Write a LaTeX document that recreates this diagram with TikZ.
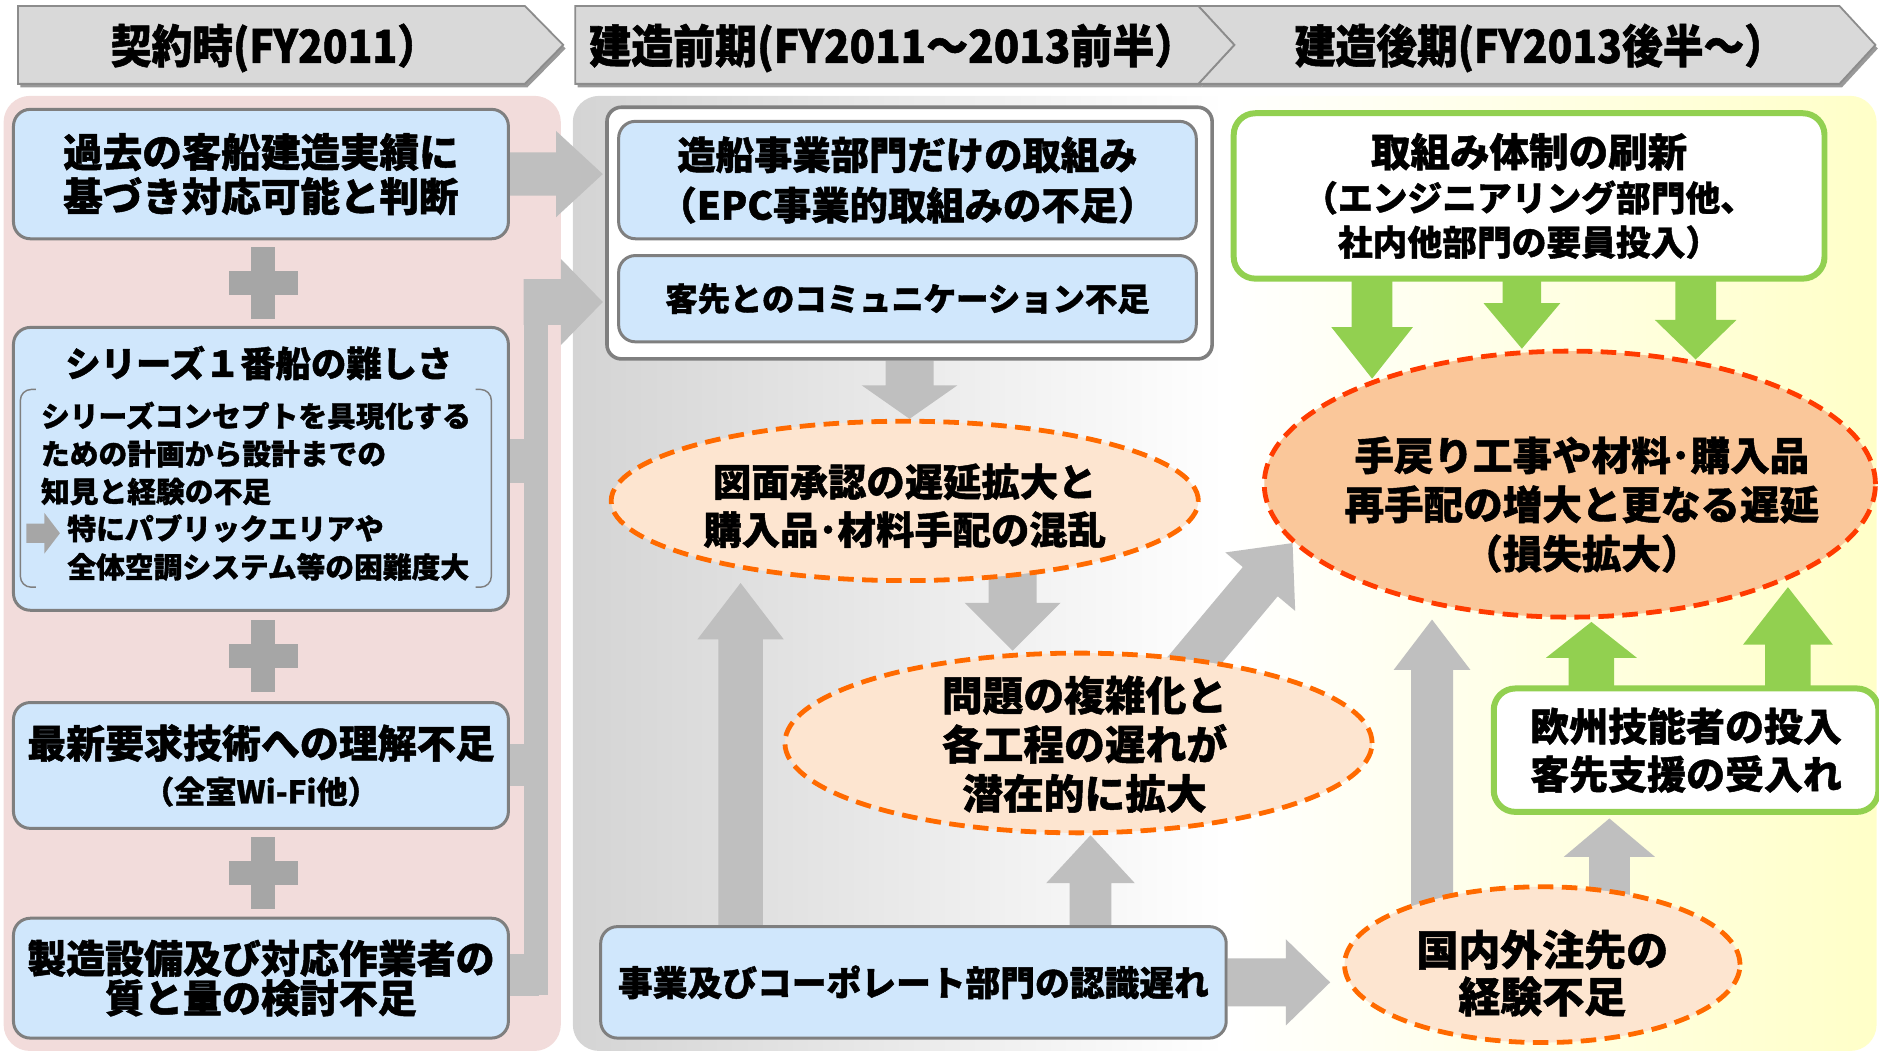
\documentclass[tikz,border=0pt]{standalone}
\usepackage{fontspec}
\setmainfont{Noto Sans CJK JP}[BoldFeatures={FakeBold=1.2}]
\usetikzlibrary{calc,shapes.geometric}
\definecolor{pinkbg}{HTML}{F2DCDB}
\definecolor{hdr}{HTML}{D9D9D9}
\definecolor{hdrline}{HTML}{8C8C8C}
\definecolor{boxblue}{HTML}{D0E7FC}
\definecolor{boxline}{HTML}{7F7F7F}
\definecolor{arrgray}{HTML}{BFBFBF}
\definecolor{plusgray}{HTML}{A6A6A6}
\definecolor{grn}{HTML}{92D050}
\definecolor{peach}{HTML}{FDE5D0}
\definecolor{peachdark}{HTML}{FAC79A}
\definecolor{dashor}{HTML}{FF6A00}
\definecolor{dashred}{HTML}{FF3B00}
\definecolor{ylw}{HTML}{FFFFC8}
\definecolor{bggray}{HTML}{D4D4D4}
\pgfdeclarelayer{bg}
\pgfdeclarelayer{arr}
\pgfsetlayers{bg,arr,main}
% #1 colour, #2 start, #3 tip, #4 half shaft, #5 half head, #6 head length
\newcommand\barrow[6]{%
  \coordinate (ba-n) at ($(#3)!#6!(#2)$);
  \fill[#1] ($(#2)!#4!90:(#3)$) -- ($(ba-n)!#4!90:(#3)$) -- ($(ba-n)!#5!90:(#3)$) -- (#3)
    -- ($(ba-n)!#5!-90:(#3)$) -- ($(ba-n)!#4!-90:(#3)$) -- ($(#2)!#4!-90:(#3)$) -- cycle;}
\begin{document}
\begin{tikzpicture}[x=1pt,y=-1pt,
  fs/.style 2 args={font=\bfseries\fontsize{#1}{#2}\selectfont},
  htext/.style={fs={34}{38}, inner sep=0pt},
  bbox/.style={draw=boxline, line width=2.5pt, fill=boxblue, rounded corners=14pt, inner sep=0pt, anchor=north west, align=center},
  gbox/.style={draw=grn, line width=5pt, fill=white, rounded corners=18pt, inner sep=0pt, anchor=north west, align=center},
  oval/.style={ellipse, draw=dashor, line width=4pt, dash pattern=on 13pt off 7pt, fill=peach, inner sep=0pt},
  etext/.style={align=center, inner sep=0pt},
  hshape/.style={fill=hdr, draw=hdrline, line width=1.5pt}]
\useasboundingbox (0,0) rectangle (1568,878);
\begin{pgfonlayer}{bg}
  \fill[pinkbg, rounded corners=22pt] (3,80) rectangle (468,877);
  \shade[left color=bggray, right color=ylw, middle color=white, rounded corners=22pt] (478,80) rectangle (1566,877);
\end{pgfonlayer}
% header chevrons
\begin{scope}[shift={(2,3)}]
  \fill[black!40] (15,5) -- (438,5) -- (470,37.5) -- (438,70) -- (15,70) -- cycle;
  \fill[black!40] (1000,5) -- (1535,5) -- (1565,37.5) -- (1535,70) -- (1000,70) -- (1030,37.5) -- cycle;
  \fill[black!40] (480,5) -- (1000,5) -- (1030,37.5) -- (1000,70) -- (480,70) -- cycle;
\end{scope}
\path[hshape] (15,5) -- (438,5) -- (470,37.5) -- (438,70) -- (15,70) -- cycle;
\path[hshape] (1000,5) -- (1535,5) -- (1565,37.5) -- (1535,70) -- (1000,70) -- (1030,37.5) -- cycle;
\path[hshape] (480,5) -- (1000,5) -- (1030,37.5) -- (1000,70) -- (480,70) -- cycle;
\node[htext] (h1) at (229,40) {\scalebox{1}[1.12]{契約時(FY2011）}};
\node[htext] (h2) at (745,40) {\scalebox{1.03}[1.12]{建造前期(FY2011～2013前半）}};
\node[htext] (h3) at (1285,40) {\scalebox{1}[1.12]{建造後期(FY2013後半～）}};
% left column
\node[bbox, minimum width=413pt, minimum height=108pt, fs={33}{37}] (L1) at (10,90) {過去の客船建造実績に\\基づき対応可能と判断};
\node[bbox, minimum width=413pt, minimum height=236pt] (L2) at (10,272) {};
\node[fs={29.5}{32}, inner sep=0pt] (L2t) at (216,303) {シリーズ１番船の難しさ};
\node[anchor=north west, align=left, fs={24}{31.5}, inner sep=0pt] (L2a) at (34,335) {シリーズコンセプトを具現化する\\ための計画から設計までの\\知見と経験の不足};
\node[anchor=north west, align=left, fs={24}{32}, inner sep=0pt] (L2c) at (56,429) {特にパブリックエリアや\\全体空調システム等の困難度大};
\draw[boxline, line width=1.2pt, rounded corners=9pt] (30,325) -- (17,325) -- (17,490) -- (30,490);
\draw[boxline, line width=1.2pt, rounded corners=9pt] (397,325) -- (410,325) -- (410,490) -- (397,490);
\coordinate (sa1) at (22,445);
\coordinate (sa2) at (50,445);
\barrow{plusgray}{sa1}{sa2}{8pt}{17pt}{13pt}
\node[bbox, minimum width=413pt, minimum height=105pt, fs={32.5}{38}] (L3) at (10,585) {最新要求技術への理解不足\\{\fontsize{26}{30}\selectfont（全室Wi-Fi他）}};
\node[bbox, minimum width=413pt, minimum height=100pt, fs={32.5}{33}] (L4) at (10,765) {製造設備及び対応作業者の\\質と量の検討不足};
% middle column
\node[draw=boxline, line width=3pt, fill=white, rounded corners=12pt, minimum width=505pt, minimum height=210pt, anchor=north west, inner sep=0pt] (cont) at (505,88) {};
\node[bbox, minimum width=482pt, minimum height=98pt, fs={32}{42}] (M1) at (515,100) {造船事業部門だけの取組み\\（EPC事業的取組みの不足）};
\node[bbox, minimum width=482pt, minimum height=72pt, fs={27}{30}] (M2) at (515,212) {客先とのコミュニケーション不足};
\node[bbox, minimum width=522pt, minimum height=93pt, fs={29}{32}] (B) at (500,772) {事業及びコーポレート部門の認識遅れ};
\node[oval, minimum width=490pt, minimum height=133pt, label={[etext, name=E1t, fs={32}{40}, yshift=-4pt]center:{図面承認の遅延拡大と\\購入品･材料手配の混乱}}] (E1) at (755,418) {};
\node[oval, minimum width=490pt, minimum height=150pt, label={[etext, name=E2t, fs={34}{41}, xshift=5pt, yshift=-1pt]center:{問題の複雑化と\\各工程の遅れが\\潜在的に拡大}}] (E2) at (900,620) {};
% right column
\node[gbox, minimum width=493pt, minimum height=138pt, fs={29}{37}] (G1) at (1027,92) {{\fontsize{33}{38}\selectfont 取組み体制の刷新}\\（エンジニアリング部門他、\\社内他部門の要員投入）};
\node[oval, draw=dashred, fill=peachdark, minimum width=510pt, minimum height=222pt, label={[etext, name=Rt, fs={33}{41}, xshift=10pt, yshift=-17pt]center:{手戻り工事や材料･購入品\\再手配の増大と更なる遅延\\（損失拡大）}}] (R) at (1310,404) {};
\node[gbox, minimum width=321pt, minimum height=103pt, fs={32.5}{40}] (G2) at (1244,572) {欧州技能者の投入\\客先支援の受入れ};
\node[oval, minimum width=330pt, minimum height=130pt, label={[etext, name=E4t, fs={35}{39}, yshift=-7pt]center:{国内外注先の\\経験不足}}] (E4) at (1287,805) {};
% connectors
\begin{pgfonlayer}{arr}
  % plus signs
  \foreach \a/\b [count=\i] in {L1/L2, L2/L3, L3/L4}{
    \coordinate (p\i) at ($(\a.south)!0.5!(\b.north)+(2,0)$);
    \fill[plusgray] ($(p\i)+(-10,-30)$) rectangle ($(p\i)+(10,30)$);
    \fill[plusgray] ($(p\i)+(-29,-10)$) rectangle ($(p\i)+(29,10)$);
  }
  % bus bar
  \coordinate (busT) at (437,233);
  \coordinate (busB) at (457,830);
  \fill[arrgray] (busT) rectangle (busB);
  \fill[arrgray] ([yshift=25pt]L2.east) rectangle ([xshift=24pt,yshift=-12pt]L2.east);
  \fill[arrgray] ([yshift=17.5pt]L3.east) rectangle ([xshift=24pt,yshift=-17.5pt]L3.east);
  \fill[arrgray] ([yshift=20pt]L4.east) rectangle ([xshift=24pt,yshift=-15pt]L4.east);
  \coordinate (a1s) at (L1.east);
  \coordinate (a1e) at ($(L1.east -| cont.west)+(-2,0)$);
  \barrow{arrgray}{a1s}{a1e}{18pt}{36pt}{39pt}
  \coordinate (a2s) at (437,252);
  \coordinate (a2e) at ($(a2s -| cont.west)+(-2,0)$);
  \barrow{arrgray}{a2s}{a2e}{19pt}{36pt}{35pt}
  \coordinate (a3s) at (cont.south);
  \coordinate (a3e) at (cont.south |- E1.north);
  \barrow{arrgray}{a3s}{a3e}{20pt}{40pt}{28pt}
  \coordinate (a4s) at ($(E1.south)+(90,-20)$);
  \coordinate (a4e) at (a4s |- E2.north);
  \barrow{arrgray}{a4s}{a4e}{20pt}{40pt}{40pt}
  \coordinate (a5s) at ($(B.north west)+(118,5)$);
  \coordinate (a5e) at (a5s |- E1.south);
  \barrow{arrgray}{a5s}{a5e}{18.5pt}{36pt}{47pt}
  \coordinate (a6s) at ($(B.north west)+(410,5)$);
  \coordinate (a6e) at (a6s |- E2.south);
  \barrow{arrgray}{a6s}{a6e}{17.5pt}{37pt}{40pt}
  \coordinate (a7s) at ($(E2.center)+(85,-55)$);
  \coordinate (a7e) at (R.192);
  \barrow{arrgray}{a7s}{a7e}{19pt}{38pt}{42pt}
  \coordinate (a8s) at (B.east);
  \coordinate (a8e) at ($(B.east -| E4.west)+(-10,0)$);
  \barrow{arrgray}{a8s}{a8e}{20pt}{36pt}{37pt}
  \coordinate (a9s) at ($(E4.center)+(-92,-20)$);
  \coordinate (a9e) at (a9s |- R.south);
  \barrow{arrgray}{a9s}{a9e}{17.5pt}{32pt}{42pt}
  \coordinate (a10s) at ($(E4.center)+(56,-20)$);
  \coordinate (a10e) at ($(a10s |- G2.south)+(0,3)$);
  \barrow{arrgray}{a10s}{a10e}{17pt}{38pt}{32pt}
  % green arrows
  \coordinate (g1s) at ($(G1.south west)+(118,-5)$);
  \coordinate (g1e) at ($(g1s |- R.north)+(0,25)$);
  \barrow{grn}{g1s}{g1e}{17pt}{34pt}{43pt}
  \coordinate (g2s) at ($(G1.south west)+(243,-5)$);
  \coordinate (g2e) at (g2s |- R.north);
  \barrow{grn}{g2s}{g2e}{16pt}{32pt}{38pt}
  \coordinate (g3s) at ($(G1.south west)+(388,-5)$);
  \coordinate (g3e) at ($(g3s |- R.north)+(0,9)$);
  \barrow{grn}{g3s}{g3e}{17pt}{34pt}{33pt}
  \coordinate (g4s) at ($(G2.north west)+(84,5)$);
  \coordinate (g4e) at ($(g4s |- R.south)+(0,2)$);
  \barrow{grn}{g4s}{g4e}{19pt}{38pt}{30pt}
  \coordinate (g5s) at ($(G2.north west)+(248,5)$);
  \coordinate (g5e) at ($(g5s |- R.south)+(0,-27)$);
  \barrow{grn}{g5s}{g5e}{19pt}{37.5pt}{48pt}
\end{pgfonlayer}
\end{tikzpicture}
\end{document}
